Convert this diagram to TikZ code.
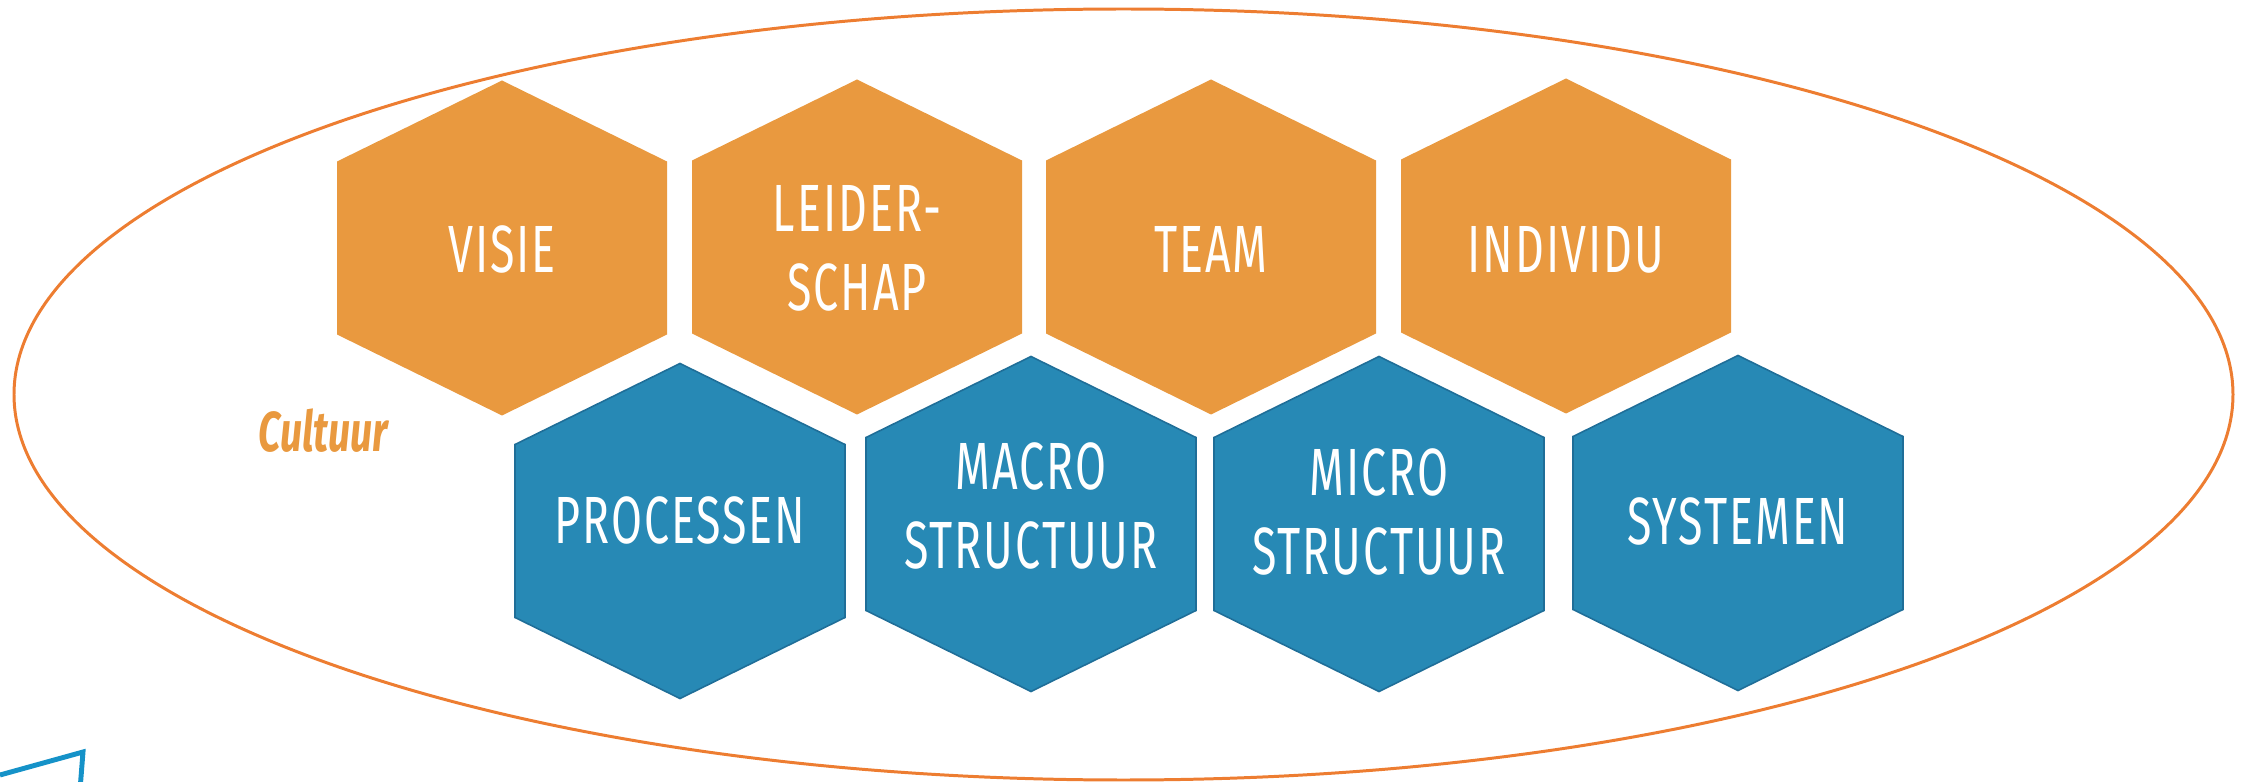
\documentclass[tikz,border=0pt]{standalone}
\usepackage{fontspec}
\setmainfont{Fira Sans}
\newfontfamily\hexfont[FakeStretch=0.67,LetterSpace=3]{Fira Sans}
\newfontfamily\cultfont[FakeStretch=0.7]{Fira Sans}
\definecolor{hexorange}{HTML}{E9993F}
\definecolor{hexblue}{HTML}{2789B5}
\definecolor{hexblueline}{HTML}{1F6E98}
\definecolor{ringorange}{HTML}{ED7D31}
\definecolor{cornerblue}{HTML}{1592C8}
\tikzset{
  orangehex/.style={fill=hexorange},
  bluehex/.style={fill=hexblue,draw=hexblueline,line width=0.45pt,line join=miter},
  hextext/.style={text=white,font=\hexfont\fontsize{19}{22.5}\selectfont,align=center,inner sep=0pt},
  ring/.style={draw=ringorange,line width=0.85pt},
  cornerline/.style={draw=cornerblue,line width=1.4pt,line join=miter},
  cultlabel/.style={text=hexorange,font=\cultfont\bfseries\itshape\fontsize{16}{18}\selectfont,inner sep=0pt,anchor=base east}
}
\newcommand\hexcell[4]{%
  \path[#4] (#2,#3) ++(0,-167.5) -- ++(165,81) -- ++(0,173) -- ++(-165,81) -- ++(-165,-81) -- ++(0,-173) -- cycle;
  \coordinate (#1) at (#2,#3);}
\begin{document}
\begin{tikzpicture}[x=0.01cm,y=-0.01cm]
\useasboundingbox (0,0) rectangle (2250,782);
% culture ring
\coordinate (ringc) at (1123.5,394.5);
\draw[ring] (ringc) ellipse [x radius=1109.5, y radius=385.5];
% top row
\hexcell{visie}{502}{248}{orangehex}
\hexcell{leider}{857}{247}{orangehex}
\hexcell{team}{1211}{247}{orangehex}
\hexcell{indiv}{1566}{246}{orangehex}
% bottom row
\hexcell{proc}{680}{531}{bluehex}
\hexcell{macro}{1031}{524}{bluehex}
\hexcell{micro}{1379}{524}{bluehex}
\hexcell{syst}{1738}{523}{bluehex}
% texts
\node[hextext] (tvisie) at (502,249.5) {VISIE};
\node[hextext] (tleider) at (857,248) {LEIDER-\\SCHAP};
\node[hextext] (tteam) at (1211,249) {TEAM};
\node[hextext] (tindiv) at (1566,250) {INDIVIDU};
\node[hextext] (tproc) at (680,520) {PROCESSEN};
\node[hextext] (tmacro) at (1031,506) {MACRO\\STRUCTUUR};
\node[hextext] (tmicro) at (1379,512) {MICRO\\STRUCTUUR};
\node[hextext] (tsyst) at (1738,521.5) {SYSTEMEN};
% label
\node[cultlabel] (cultuur) at (389,452) {Cultuur};
% corner fragment
\coordinate (bl1) at (0,775);
\coordinate (bl2) at (83,752);
\coordinate (bl3) at (80,790);
\draw[cornerline] (bl1) -- (bl2) -- (bl3);
\end{tikzpicture}
\end{document}
